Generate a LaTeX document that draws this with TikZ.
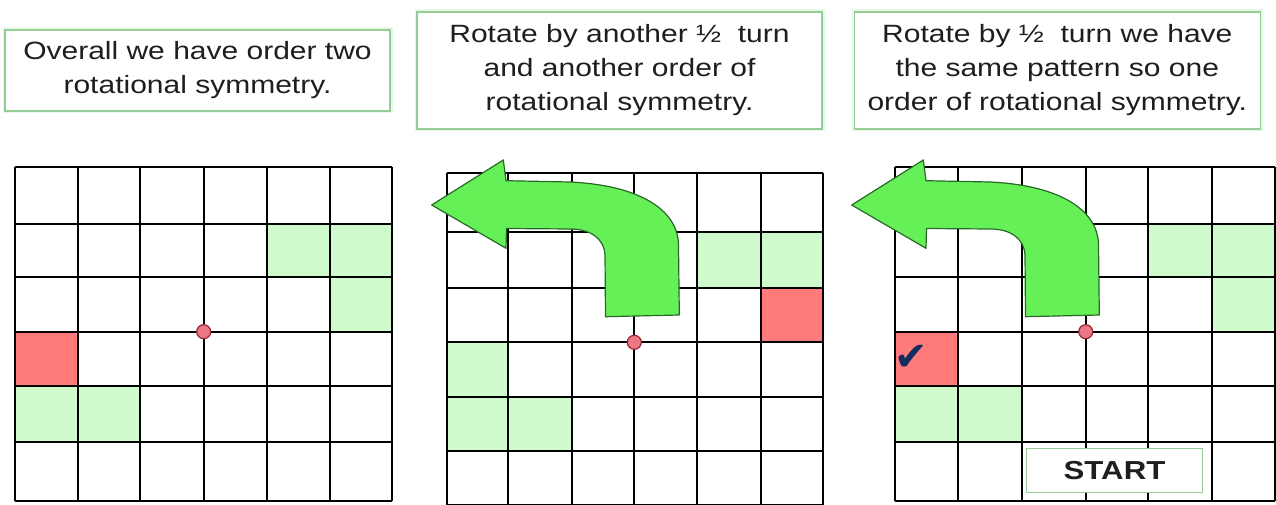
\documentclass[tikz,border=0pt]{standalone}
\usepackage{fontspec}
\setmainfont{Liberation Sans}[FakeStretch=1.2]
\newfontfamily\symfont{DejaVu Sans}
\definecolor{lgreen}{RGB}{206,250,204}
\definecolor{cellred}{RGB}{255,122,122}
\definecolor{arrowfill}{RGB}{102,240,88}
\definecolor{arrowline}{RGB}{40,105,40}
\definecolor{boxline}{RGB}{150,205,150}
\definecolor{boxglow}{RGB}{230,248,230}
\definecolor{dotfill}{RGB}{235,120,132}
\definecolor{dotline}{RGB}{150,40,50}
\definecolor{ticknavy}{RGB}{15,45,95}
\definecolor{txt}{RGB}{30,30,30}
\begin{document}
\begin{tikzpicture}[x=1pt,y=-1pt,
  gridline/.style={line width=1.7pt, black},
  textbox/.style={draw=boxline, line width=1.3pt, preaction={draw=boxglow, line width=5pt},
    fill=white, align=center, inner sep=0pt, text=txt, font=\fontsize{25}{34}\selectfont},
  startbox/.style={draw=boxline, line width=1.3pt, fill=white, inner sep=0pt,
    minimum width=176pt, minimum height=44pt, text=txt, font=\fontsize{26}{30}\selectfont\bfseries},
  dot/.style={circle, inner sep=0pt, minimum size=14pt, fill=dotfill, draw=dotline, line width=1.2pt},
  turnarrow/.pic={
    \draw[fill=arrowfill, draw=arrowline, line width=1.2pt, line join=round]
      (431.7,205) -- (503.3,160) -- (506,180.7) -- (570,182)
      .. controls (636,185) and (678,208) .. (678.5,245)
      -- (679.3,315) -- (605.5,316.7) -- (605,255)
      .. controls (604,238) and (590,229) .. (570,229)
      -- (506.5,228.5) -- (506,248.3) -- cycle;
  }]
\useasboundingbox (0,0) rectangle (1276,505);
\fill[white] (0,0) rectangle (1276,505);

% ---------- text boxes ----------
\node[textbox, minimum width=385pt, minimum height=81pt] (box1) at (197.5,70.5)
  {Overall we have order two\\rotational symmetry.};
\node[textbox, minimum width=405pt, minimum height=117pt] (box2) at (619.5,70.4)
  {Rotate by another ½~ turn\\and another order of\\rotational symmetry.};
\node[textbox, minimum width=406pt, minimum height=117pt] (box3) at (1057.3,70.5)
  {Rotate by ½~ turn we have\\the same pattern so one\\order of rotational symmetry.};

% ---------- grid 1 ----------
\fill[lgreen] (266.7,224.3) rectangle (391.7,277.3);
\fill[lgreen] (330,277.3) rectangle (391.7,331.7);
\fill[cellred] (14.7,331.7) rectangle (77.7,385.7);
\fill[lgreen] (14.7,385.7) rectangle (140.3,441.7);
\foreach \x in {14.7,77.7,140.3,203.7,266.7,330,391.7}
  \draw[gridline] (\x,167.3) -- (\x,500.7);
\foreach \y in {167.3,224.3,277.3,331.7,385.7,441.7,500.7}
  \draw[gridline] (14.7,\y) -- (391.7,\y);
\node[dot] (c1) at (203.7,331.7) {};

% ---------- grid 2 ----------
\fill[lgreen] (697.3,231.7) rectangle (823.3,287.7);
\fill[cellred] (760.7,287.7) rectangle (823.3,342.3);
\fill[lgreen] (446.7,342.3) rectangle (508.3,396.7);
\fill[lgreen] (446.7,396.7) rectangle (571.7,450.7);
\foreach \x in {446.7,508.3,571.7,634.3,697.3,760.7,823.3}
  \draw[gridline] (\x,172.7) -- (\x,505);
\foreach \y in {172.7,231.7,287.7,342.3,396.7,450.7,505}
  \draw[gridline] (446.7,\y) -- (823.3,\y);
\node[dot] (c2) at (634.3,342.3) {};

% ---------- grid 3 ----------
\fill[lgreen] (1148.3,224.3) rectangle (1275,277.3);
\fill[lgreen] (1211.7,277.3) rectangle (1275,331.7);
\fill[cellred] (895,331.7) rectangle (958.3,385.7);
\fill[lgreen] (895,385.7) rectangle (1021.7,441.7);
\foreach \x in {895,958.3,1021.7,1085.7,1148.3,1211.7,1275}
  \draw[gridline] (\x,167.3) -- (\x,500.7);
\foreach \y in {167.3,224.3,277.3,331.7,385.7,441.7,500.7}
  \draw[gridline] (895,\y) -- (1275,\y);
\node[dot] (c3) at (1085.7,331.7) {};

% ---------- arrows ----------
\pic at (0,0) {turnarrow};
\pic at (420,0) {turnarrow};

% ---------- tick and start ----------
\node[text=ticknavy, font=\symfont\fontsize{40}{40}\selectfont, inner sep=0pt] (tick) at (911,358) {✔};
\node[startbox] (start) at (1114.5,470.5) {START};
\end{tikzpicture}
\end{document}
